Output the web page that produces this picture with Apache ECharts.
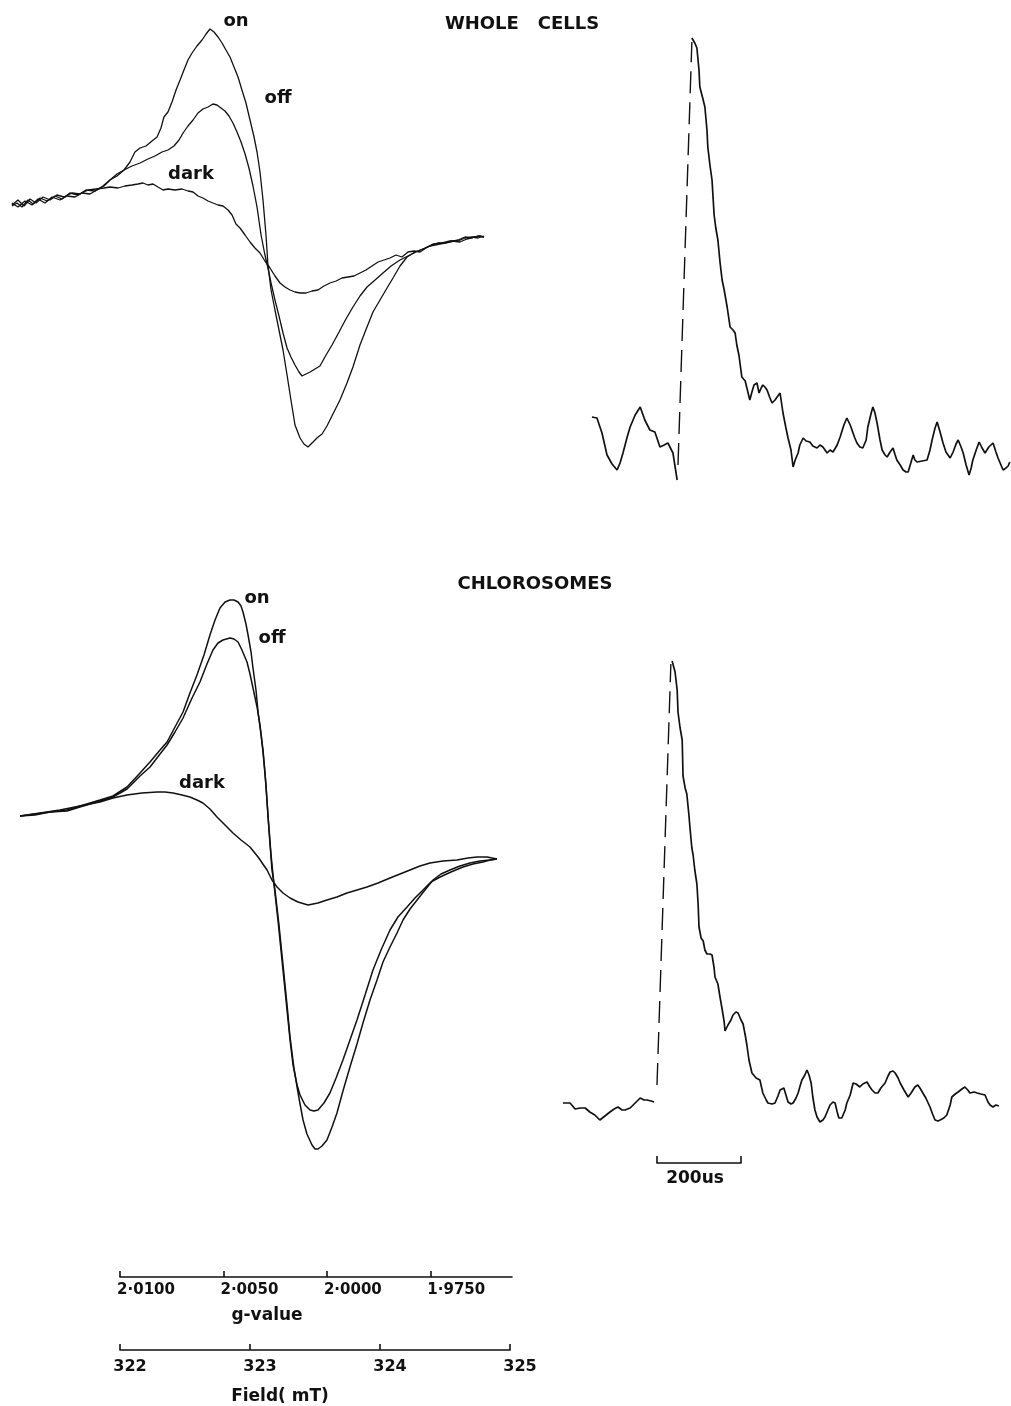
<!DOCTYPE html>
<html>
<head>
<meta charset="utf-8">
<script src="https://cdn.jsdelivr.net/npm/echarts@6/dist/echarts.min.js"></script>
<style>
html,body{margin:0;padding:0;background:#fff;}
#chart{width:1011px;height:1406px;}
</style>
</head>
<body>
<div id="chart"></div>
<script>
// ---------- DATA (field in mT, signal in arbitrary units; time in microseconds) ----------
const onWholeCells = [[321.169,64],[321.208,67],[321.246,63],[321.292,70],[321.331,66],[321.385,72],[321.439,69],[321.5,74],[321.554,71],[321.615,77],[321.677,75],[321.738,80],[321.808,79],[321.869,84],[321.923,90],[321.977,94],[322.031,100],[322.077,108],[322.115,118],[322.154,122],[322.2,124],[322.246,129],[322.285,133],[322.315,142],[322.338,153],[322.369,158],[322.4,168],[322.431,180],[322.462,190],[322.492,200],[322.523,210],[322.554,217],[322.592,224],[322.631,230],[322.662,236],[322.692,241],[322.723,238],[322.754,233],[322.785,227],[322.815,220],[322.846,213],[322.877,203],[322.908,193],[322.938,180],[322.969,167],[323.0,150],[323.031,133],[323.054,118],[323.077,98],[323.1,70],[323.123,35],[323.138,5],[323.162,-20],[323.192,-40],[323.223,-60],[323.254,-80],[323.285,-105],[323.315,-130],[323.346,-155],[323.385,-168],[323.415,-174],[323.446,-177],[323.485,-172],[323.515,-168],[323.554,-164],[323.592,-156],[323.638,-144],[323.692,-130],[323.746,-113],[323.792,-97],[323.846,-75],[323.9,-57],[323.946,-42],[324.0,-30],[324.054,-18],[324.1,-8],[324.154,4],[324.208,13],[324.269,18],[324.331,21],[324.385,24],[324.462,26],[324.538,28],[324.6,30],[324.654,33],[324.708,32],[324.754,34],[324.8,33]];
const offWholeCells = [[321.169,67],[321.215,63],[321.269,69],[321.323,65],[321.369,71],[321.423,67],[321.477,73],[321.538,70],[321.592,74],[321.654,73],[321.708,77],[321.769,76],[321.823,80],[321.877,84],[321.923,90],[321.977,96],[322.031,100],[322.092,104],[322.154,107],[322.215,111],[322.269,114],[322.323,118],[322.369,120],[322.415,124],[322.454,130],[322.485,137],[322.523,144],[322.562,150],[322.6,157],[322.638,161],[322.677,163],[322.715,166],[322.746,165],[322.777,162],[322.808,159],[322.838,154],[322.869,147],[322.9,138],[322.931,128],[322.962,116],[322.992,102],[323.023,84],[323.054,63],[323.085,35],[323.115,15],[323.138,2],[323.162,-13],[323.192,-30],[323.223,-46],[323.254,-63],[323.285,-78],[323.315,-87],[323.346,-95],[323.377,-102],[323.4,-106],[323.431,-104],[323.462,-102],[323.5,-99],[323.538,-96],[323.585,-85],[323.631,-75],[323.685,-62],[323.738,-49],[323.792,-37],[323.846,-26],[323.9,-17],[323.962,-10],[324.023,-3],[324.085,4],[324.154,10],[324.215,14],[324.277,18],[324.346,22],[324.408,26],[324.477,27],[324.538,29],[324.6,29],[324.654,32],[324.708,33],[324.754,32],[324.8,34]];
const darkWholeCells = [[321.169,65],[321.215,70],[321.262,64],[321.308,71],[321.354,67],[321.408,73],[321.462,70],[321.515,75],[321.569,73],[321.631,77],[321.692,76],[321.754,80],[321.815,81],[321.877,82],[321.923,83],[321.985,82],[322.038,84],[322.092,85],[322.138,86],[322.177,87],[322.215,85],[322.254,86],[322.292,83],[322.331,80],[322.369,81],[322.423,80],[322.477,81],[322.523,79],[322.562,78],[322.6,74],[322.638,72],[322.677,69],[322.715,67],[322.754,65],[322.792,64],[322.831,60],[322.862,55],[322.892,46],[322.923,42],[322.962,35],[323.0,28],[323.038,22],[323.077,17],[323.115,9],[323.154,2],[323.192,-6],[323.231,-13],[323.269,-17],[323.308,-20],[323.346,-22],[323.385,-23],[323.431,-23],[323.477,-21],[323.523,-20],[323.569,-16],[323.615,-13],[323.662,-11],[323.708,-8],[323.754,-7],[323.8,-6],[323.846,-3],[323.892,0],[323.938,4],[323.985,8],[324.031,10],[324.077,12],[324.123,15],[324.169,13],[324.215,18],[324.262,19],[324.308,18],[324.354,22],[324.4,25],[324.446,27],[324.5,27],[324.554,29],[324.615,28],[324.669,31],[324.723,33],[324.769,34],[324.8,33]];

const onChlorosomes = [[321.231,69],[321.346,71],[321.462,73],[321.592,75],[321.692,79],[321.846,85],[321.946,89],[322.054,98],[322.154,112],[322.231,123],[322.308,135],[322.362,143],[322.423,158],[322.485,173],[322.538,192],[322.592,210],[322.646,230],[322.692,250],[322.731,265],[322.769,277],[322.808,283],[322.846,285],[322.877,285],[322.908,283],[322.931,279],[322.946,273],[322.969,261],[322.985,250],[323.008,233],[323.023,217],[323.046,195],[323.062,173],[323.085,150],[323.1,133],[323.123,100],[323.146,55],[323.169,15],[323.192,-5],[323.223,-40],[323.254,-80],[323.285,-120],[323.308,-152],[323.338,-183],[323.362,-202],[323.385,-219],[323.408,-235],[323.438,-249],[323.477,-260],[323.5,-264],[323.523,-264],[323.554,-261],[323.592,-255],[323.631,-242],[323.669,-228],[323.715,-206],[323.769,-182],[323.823,-159],[323.869,-138],[323.923,-115],[323.977,-95],[324.023,-77],[324.077,-62],[324.131,-48],[324.177,-35],[324.231,-24],[324.285,-15],[324.346,-5],[324.408,5],[324.469,11],[324.538,15],[324.615,19],[324.692,22],[324.769,24],[324.846,25],[324.9,26]];
const offChlorosomes = [[321.231,69],[321.346,70],[321.462,73],[321.592,74],[321.692,78],[321.846,84],[321.946,88],[322.054,96],[322.154,109],[322.231,118],[322.308,131],[322.362,140],[322.423,153],[322.485,167],[322.554,187],[322.615,203],[322.669,221],[322.715,235],[322.754,242],[322.792,245],[322.846,247],[322.877,246],[322.908,243],[322.938,235],[322.977,223],[323.0,211],[323.023,197],[323.054,178],[323.077,160],[323.1,135],[323.115,113],[323.138,70],[323.162,30],[323.185,0],[323.215,-35],[323.246,-75],[323.277,-115],[323.308,-155],[323.331,-180],[323.362,-200],[323.385,-210],[323.423,-220],[323.462,-225],[323.492,-226],[323.523,-225],[323.569,-218],[323.615,-208],[323.662,-193],[323.715,-175],[323.769,-155],[323.823,-135],[323.885,-110],[323.946,-85],[324.008,-65],[324.077,-45],[324.138,-32],[324.208,-22],[324.269,-13],[324.331,-5],[324.392,3],[324.462,8],[324.546,13],[324.638,18],[324.715,21],[324.792,23],[324.846,25],[324.9,26]];
const darkChlorosomes = [[321.231,69],[321.385,72],[321.538,75],[321.692,79],[321.846,83],[321.946,87],[322.054,90],[322.169,92],[322.285,93],[322.346,93],[322.408,92],[322.477,90],[322.538,88],[322.592,85],[322.638,82],[322.692,76],[322.746,68],[322.808,60],[322.869,52],[322.931,45],[323.0,38],[323.062,28],[323.131,15],[323.169,5],[323.208,-2],[323.254,-8],[323.308,-13],[323.369,-17],[323.446,-20],[323.523,-18],[323.592,-15],[323.669,-12],[323.746,-8],[323.823,-5],[323.9,-2],[323.985,2],[324.077,7],[324.154,11],[324.231,15],[324.308,19],[324.385,22],[324.485,24],[324.592,25],[324.677,27],[324.746,28],[324.823,28],[324.9,26]];

const kineticWholeCellsPre = [[-205,33],[-193,32],[-181,17],[-169,-5],[-157,-14],[-145,-20],[-138,-13],[-131,-3],[-121,13],[-114,23],[-102,35],[-90,43],[-79,30],[-67,20],[-55,18],[-43,3],[-33,5],[-24,7],[-12,-3],[-2,-30]];
const kineticWholeCellsFlash = [[0,-15],[33,408]];
const kineticWholeCellsPost = [[33,412],[40,407],[45,402],[50,380],[52,363],[60,350],[64,343],[69,320],[71,303],[76,285],[81,270],[86,235],[90,222],[95,210],[100,188],[105,170],[110,160],[117,143],[124,123],[131,120],[136,117],[140,105],[145,95],[152,73],[160,69],[164,68],[171,50],[176,58],[181,65],[188,67],[193,57],[198,62],[202,65],[207,63],[212,60],[219,52],[224,47],[231,50],[236,53],[243,57],[250,37],[257,22],[262,12],[269,0],[274,-17],[279,-10],[286,-3],[290,5],[298,12],[305,9],[314,8],[321,4],[331,2],[338,5],[345,3],[355,-3],[362,0],[369,-2],[379,5],[386,13],[395,25],[402,32],[410,25],[414,23],[421,12],[426,7],[433,3],[440,2],[448,10],[452,23],[460,37],[464,43],[469,37],[474,27],[481,10],[486,0],[493,-5],[498,-7],[505,-2],[512,2],[517,-5],[521,-10],[529,-15],[536,-20],[543,-22],[548,-22],[555,-12],[560,-5],[564,-10],[569,-12],[581,-11],[593,-10],[600,0],[605,10],[612,22],[617,28],[624,18],[631,7],[638,-2],[648,-8],[655,-2],[662,6],[667,10],[674,3],[679,-3],[686,-15],[693,-25],[698,-18],[702,-10],[710,0],[717,8],[724,2],[731,-3],[740,3],[750,7],[757,-2],[762,-8],[769,-15],[774,-20],[781,-18],[786,-16],[790,-12]];

const kineticChlorosomesPre = [[-224,-3],[-207,-3],[-195,-9],[-183,-8],[-171,-8],[-160,-12],[-148,-15],[-136,-20],[-124,-16],[-112,-12],[-102,-9],[-93,-7],[-83,-10],[-76,-10],[-64,-8],[-52,-3],[-40,2],[-31,0],[-24,0],[-14,-1],[-7,-2]];
const kineticChlorosomesFlash = [[0,15],[33,436]];
const kineticChlorosomesPost = [[36,439],[43,428],[48,410],[50,388],[55,372],[60,360],[62,324],[67,312],[71,306],[76,285],[79,270],[83,252],[86,245],[90,230],[95,216],[98,195],[100,173],[105,162],[110,159],[114,150],[119,146],[126,146],[131,145],[136,132],[138,123],[145,116],[150,103],[155,91],[160,78],[162,69],[169,75],[176,80],[181,85],[188,88],[193,87],[200,80],[205,76],[210,65],[214,55],[219,40],[226,27],[236,22],[245,20],[252,7],[260,0],[264,-3],[274,-4],[281,-3],[288,4],[293,10],[302,12],[307,5],[312,-2],[319,-4],[324,-3],[331,2],[336,7],[340,13],[345,20],[352,25],[357,30],[362,25],[367,17],[371,3],[376,-10],[381,-17],[388,-22],[395,-20],[400,-17],[407,-10],[412,-5],[419,-2],[424,-3],[429,-12],[433,-18],[440,-18],[448,-10],[452,-3],[460,5],[467,17],[474,16],[483,13],[490,16],[500,18],[507,13],[512,10],[519,7],[526,7],[533,12],[543,17],[550,24],[555,28],[562,29],[567,27],[574,22],[579,17],[588,10],[598,3],[605,7],[614,13],[621,15],[626,12],[633,7],[640,2],[650,-7],[657,-15],[662,-20],[669,-21],[674,-20],[683,-18],[690,-15],[698,-5],[702,3],[710,6],[717,8],[726,11],[733,13],[740,10],[745,7],[755,8],[762,7],[771,6],[781,5],[788,-2],[793,-5],[800,-7],[807,-5],[814,-6]];

const gTickValues = [2.0100, 2.0050, 2.0000, 1.9950];
const gTickLabels = ['2·0100', '2·0050', '2·0000', '1·9750'];
const fieldTickValues = [322, 323, 324, 325];
const scaleBarValues = [0, 200];

// ---------- CHART ----------
const FONT = '"DejaVu Sans", "Liberation Sans", sans-serif';
const chart = echarts.init(document.getElementById('chart'), null, {renderer: 'canvas'});

function hiddenX(grid, min, max) {
  return {gridIndex: grid, type: 'value', min: min, max: max, show: false};
}
function hiddenY(grid, min, max) {
  return {gridIndex: grid, type: 'value', min: min, max: max, show: false};
}
function trace(data, idx, width, dashed) {
  return {
    type: 'line', data: data, xAxisIndex: idx, yAxisIndex: idx,
    showSymbol: false, symbol: 'none', smooth: false, silent: true,
    lineStyle: {color: '#111', width: width, type: dashed ? [22, 9] : 'solid'},
    z: 3
  };
}
const axisBase = {
  axisLine: {show: true, lineStyle: {color: '#111', width: 1.6}},
  axisTick: {show: true, inside: true, length: 6, lineStyle: {color: '#111', width: 1.6}},
  splitLine: {show: false}
};

function label(text, x, y, size) {
  return {
    type: 'text', silent: true,
    style: {
      text: text, x: x, y: y, fill: '#111',
      font: 'bold ' + size + 'px ' + FONT,
      textAlign: 'center', textVerticalAlign: 'middle',
      align: 'center', verticalAlign: 'middle'
    }
  };
}

const option = {
  backgroundColor: '#ffffff',
  animation: false,
  grid: [
    {left: 3, top: 20, width: 507, height: 440},
    {left: 3, top: 580, width: 507, height: 590},
    {left: 577.2, top: 20, width: 432.6, height: 470},
    {left: 556.2, top: 640, width: 453.6, height: 490},
    {left: 120, top: 1275, width: 392, height: 2},
    {left: 120, top: 1348, width: 390, height: 2},
    {left: 657, top: 1161, width: 84, height: 2}
  ],
  xAxis: [
    hiddenX(0, 321.1, 325.0),
    hiddenX(1, 321.1, 325.0),
    hiddenX(2, -240, 790),
    hiddenX(3, -240, 840),
    Object.assign({}, axisBase, {
      gridIndex: 4, type: 'value', inverse: true, min: 2.0100 - 0.005 * 3.79, max: 2.0100,
      position: 'bottom',
      axisTick: Object.assign({}, axisBase.axisTick, {customValues: gTickValues}),
      axisLabel: {
        customValues: gTickValues, margin: 6, color: '#111',
        fontFamily: FONT, fontWeight: 'bold', fontSize: 15, padding: [0, 0, 0, 52],
        formatter: function (v) {
          const i = gTickValues.findIndex(function (g) { return Math.abs(g - v) < 1e-7; });
          return i >= 0 ? gTickLabels[i] : '';
        }
      },
      name: 'g-value', nameLocation: 'middle', nameGap: 30,
      nameTextStyle: {color: '#111', fontFamily: FONT, fontWeight: 'bold', fontSize: 17, padding: [0, 98, 0, 0]}
    }),
    Object.assign({}, axisBase, {
      gridIndex: 5, type: 'value', min: 322, max: 325, interval: 1, position: 'bottom',
      axisTick: Object.assign({}, axisBase.axisTick, {customValues: fieldTickValues}),
      axisLabel: {
        customValues: fieldTickValues, margin: 9, color: '#111',
        fontFamily: FONT, fontWeight: 'bold', fontSize: 16, padding: [0, 0, 0, 20]
      },
      name: 'Field( mT)', nameLocation: 'middle', nameGap: 38,
      nameTextStyle: {color: '#111', fontFamily: FONT, fontWeight: 'bold', fontSize: 17, padding: [0, 70, 0, 0]}
    }),
    Object.assign({}, axisBase, {
      gridIndex: 6, type: 'value', min: 0, max: 200, interval: 200, position: 'bottom',
      axisTick: Object.assign({}, axisBase.axisTick, {customValues: scaleBarValues, length: 7}),
      axisLabel: {show: false},
      name: '200us', nameLocation: 'middle', nameGap: 7,
      nameTextStyle: {color: '#111', fontFamily: FONT, fontWeight: 'bold', fontSize: 17, padding: [0, 8, 0, 0]}
    })
  ],
  yAxis: [
    hiddenY(0, -190, 250),
    hiddenY(1, -285, 305),
    hiddenY(2, -40, 430),
    hiddenY(3, -30, 460),
    hiddenY(4, 0, 1),
    hiddenY(5, 0, 1),
    hiddenY(6, 0, 1)
  ],
  series: [
    trace(onWholeCells, 0, 1.3),
    trace(offWholeCells, 0, 1.3),
    trace(darkWholeCells, 0, 1.3),
    trace(onChlorosomes, 1, 1.5),
    trace(offChlorosomes, 1, 1.5),
    trace(darkChlorosomes, 1, 1.5),
    trace(kineticWholeCellsPre, 2, 1.7),
    trace(kineticWholeCellsFlash, 2, 1.4, true),
    trace(kineticWholeCellsPost, 2, 1.7),
    trace(kineticChlorosomesPre, 3, 1.7),
    trace(kineticChlorosomesFlash, 3, 1.4, true),
    trace(kineticChlorosomesPost, 3, 1.7)
  ],
  graphic: [
    label('WHOLE   CELLS', 522, 24, 18),
    label('CHLOROSOMES', 535, 584, 18),
    label('on', 236, 21, 18),
    label('off', 278, 98, 18),
    label('dark', 191, 174, 18),
    label('on', 257, 598, 18),
    label('off', 272, 638, 18),
    label('dark', 202, 783, 18)
  ]
};
chart.setOption(option);
</script>
</body>
</html>
